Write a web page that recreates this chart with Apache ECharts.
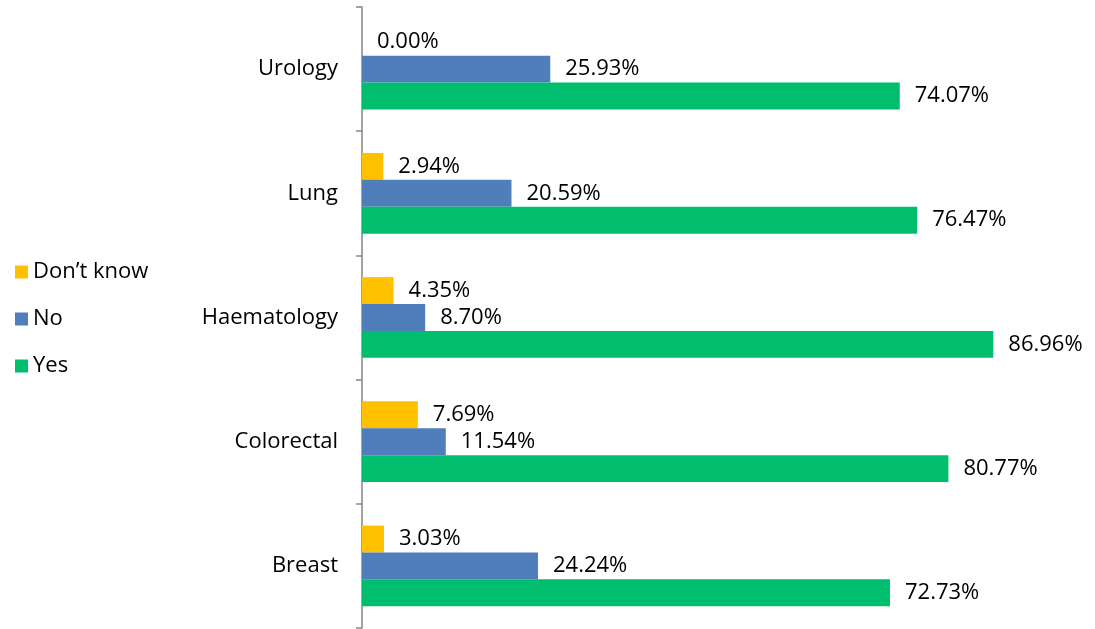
<!DOCTYPE html>
<html>
<head>
<meta charset="utf-8">
<script src="https://cdn.jsdelivr.net/npm/echarts@6/dist/echarts.min.js"></script>
<style>
  html, body { margin: 0; padding: 0; background: #fff; }
  #chart { width: 1095px; height: 629px; }
</style>
</head>
<body>
<div id="chart"></div>
<script>
// categories bottom -> top
var categories = ['Breast', 'Colorectal', 'Haematology', 'Lung', 'Urology']
var dontKnow = [3.03, 7.69, 4.35, 2.94, 0.00]
var no = [24.24, 11.54, 8.70, 20.59, 25.93]
var yes = [72.73, 80.77, 86.96, 76.47, 74.07]

var font = 'Open Sans'
var fsize = 22
var chart = echarts.init(document.getElementById('chart'))

function barLabel() {
  return {
    show: true,
    position: 'right',
    distance: 15,
    color: '#000',
    fontSize: fsize,
    fontFamily: font,
    formatter: function(p) {
      return p.value.toFixed(2) + '%'
    }
  }
}

var option = {
  animation: false,
  legend: {
    orient: 'vertical',
    left: 10,
    top: 256,
    itemWidth: 13,
    itemHeight: 13,
    itemGap: 25,
    icon: 'rect',
    data: ['Don\u2019t know', 'No', 'Yes'],
    textStyle: { color: '#000', fontSize: fsize, fontFamily: font }
  },
  grid: { left: 362, right: 7, top: 7, bottom: 1, containLabel: false },
  xAxis: {
    type: 'value',
    min: 0,
    max: 100,
    show: false
  },
  yAxis: {
    type: 'category',
    data: categories,
    axisLine: { lineStyle: { color: '#868686', width: 1.5 } },
    axisTick: { show: true, length: 6, lineStyle: { color: '#868686', width: 1.5 } },
    axisLabel: { color: '#000', fontSize: fsize, fontFamily: font, margin: 24 }
  },
  series: [
    {
      name: 'Don\u2019t know',
      type: 'bar',
      data: dontKnow,
      barGap: '0%',
      barCategoryGap: '35%',
      itemStyle: { color: '#FFC000' },
      label: barLabel()
    },
    {
      name: 'No',
      type: 'bar',
      data: no,
      barGap: '0%',
      barCategoryGap: '35%',
      itemStyle: { color: '#4F7EBA' },
      label: barLabel()
    },
    {
      name: 'Yes',
      type: 'bar',
      data: yes,
      barGap: '0%',
      barCategoryGap: '35%',
      itemStyle: { color: '#00BE6E' },
      label: barLabel()
    }
  ]
}
chart.setOption(option)
window.addEventListener('resize', function() {
  chart.resize()
})
</script>
</body>
</html>
